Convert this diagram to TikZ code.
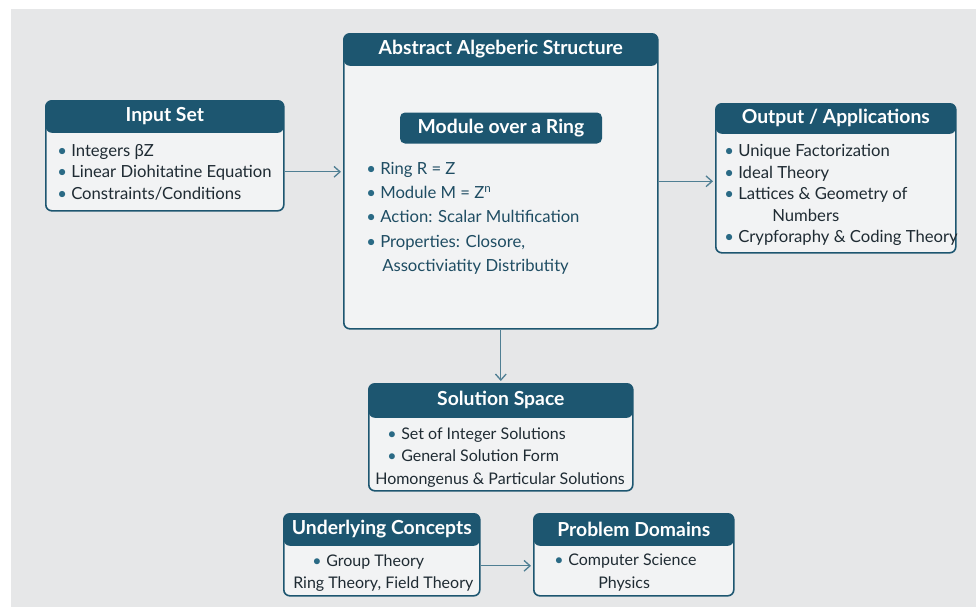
\documentclass[tikz,border=0pt]{standalone}
\usepackage{fontspec}
\setmainfont{Lato}
\usepackage{xcolor}
\usepackage{tikz}
\usetikzlibrary{
  arrows.meta,
  positioning,
  calc
}
\definecolor{HeadTeal}{HTML}{1D5670}
\definecolor{CardFill}{HTML}{F2F3F4}
\definecolor{PageGray}{HTML}{E6E7E8}
\definecolor{ArrowTeal}{HTML}{4F7F93}
\definecolor{BulletTeal}{HTML}{2A6A85}
\definecolor{BodyDark}{HTML}{1F2B33}
\definecolor{BodyTeal}{HTML}{1F4D63}
\newdimen\pxu
\pxu=0.75pt
\newcommand{\bul}{\makebox[14\pxu][l]{\textcolor{BulletTeal}{\textbullet}}}
\tikzset{
  card/.style={
    draw=HeadTeal,
    line width=1.6\pxu,
    rounded corners=6\pxu,
    fill=CardFill,
    anchor=north west,
    path picture={
      \fill[HeadTeal]
      (path picture bounding box.north west) rectangle
      ([yshift=-#1]path picture bounding box.north east);
    }
  },
  card/.default=32\pxu,
  title/.style={
    text=white,
    font=\bfseries\fontsize{14.5}{17}\selectfont,
    inner sep=0pt
  },
  body/.style={
    anchor=north west,
    align=left,
    inner sep=0pt,
    text=BodyDark,
    font=\fontsize{12.5}{16.2}\selectfont
  },
  pill/.style={
    fill=HeadTeal,
    rounded corners=5\pxu,
    text=white,
    font=\bfseries\fontsize{14.5}{17}\selectfont,
    minimum width=202\pxu,
    minimum height=31\pxu
  },
  link/.style={
    -{Straight Barb[length=4.5pt,width=8pt]},
    draw=ArrowTeal,
    line width=1.3\pxu,
    shorten >=2\pxu
  }
}

\begin{document}
\begin{tikzpicture}[
  x=\pxu,
  y=-\pxu
]

  \useasboundingbox[fill=white] (0,0) rectangle (976,607);
  \fill[PageGray] (11,9) rectangle (976,607);

  % main structure
  \node[
    card,
    minimum width=314\pxu,
    minimum height=295\pxu
  ] (abstract) at (343,33) {};
  \node[title] at ([yshift=-16\pxu]abstract.north) {Abstract Algeberic Structure};
  \node[pill] (module) at (501,128) {Module over a Ring};
  \node[
    body,
    text=BodyTeal,
    font=\fontsize{12.5}{18.2}\selectfont
  ] (abstracttext) at (366,162) {
    \bul Ring R = Z\\
    \bul Module M = Z\textsuperscript{n}\\
    \bul Action: Scalar Multification\\
    \bul Properties: Closore,\\
    \hspace*{16\pxu}Assoctiviatity Distributity
  };

  % input
  \node[
    card,
    minimum width=238\pxu,
    minimum height=110\pxu
  ] (input) at (45,100) {};
  \node[title] at ([yshift=-16\pxu]input.north) {Input Set};
  \node[body] (inputtext) at (57,144) {
    \bul Integers βZ\\
    \bul Linear Diohitatine Equation\\
    \bul Constraints/Conditions
  };

  % output
  \node[
    card=30\pxu,
    minimum width=240\pxu,
    minimum height=149\pxu
  ] (output) at (715,103) {};
  \node[title] at ([yshift=-15\pxu]output.north) {Output / Applications};
  \node[body] (outputtext) at (724,144) {
    \bul Unique Factorization\\
    \bul Ideal Theory\\
    \bul Lattices \& Geometry of\\
    \hspace*{48\pxu}Numbers\\
    \bul Crypforaphy \& Coding Theory
  };

  % solutions
  \node[
    card=34\pxu,
    minimum width=264\pxu,
    minimum height=107\pxu
  ] (solution) at (368,383) {};
  \node[title] at ([yshift=-17\pxu]solution.north) {Solution Space};
  \node[
    body,
    font=\fontsize{12}{16.9}\selectfont
  ] (solutiontext) at (387,427) {
    \bul Set of Integer Solutions\\
    \bul General Solution Form\\
    \hspace*{-12\pxu}Homongenus \& Particular Solutions
  };

  % bottom row
  \node[
    card,
    minimum width=196\pxu,
    minimum height=82\pxu
  ] (concepts) at (283,513) {};
  \node[title] at ([yshift=-16\pxu]concepts.north) {Underlying Concepts};
  \node[
    body,
    font=\fontsize{12}{17.2}\selectfont
  ] (conceptstext) at (312,554) {
    \bul Group Theory\\
    \hspace*{-19\pxu}Ring Theory, Field Theory
  };

  \node[
    card,
    minimum width=200\pxu,
    minimum height=82\pxu
  ] (domains) at (533,513) {};
  \node[title] at ([yshift=-16\pxu]domains.north) {Problem Domains};
  \node[
    body,
    font=\fontsize{12}{17.2}\selectfont
  ] (domainstext) at (554,554) {
    \bul Computer Science\\
    \hspace*{44\pxu}Physics
  };

  % connectors
  \coordinate (inarrow) at ([yshift=-16\pxu]input.east);
  \draw[link] (inarrow) -- (inarrow -| abstract.west);
  \draw[link] (abstract.east) -- (abstract.east -| output.west);
  \draw[link] (abstract.south) -- (solution.north);
  \coordinate (botarrow) at ([yshift=-11\pxu]concepts.east);
  \draw[link] (botarrow) -- (botarrow -| domains.west);

\end{tikzpicture}
\end{document}
